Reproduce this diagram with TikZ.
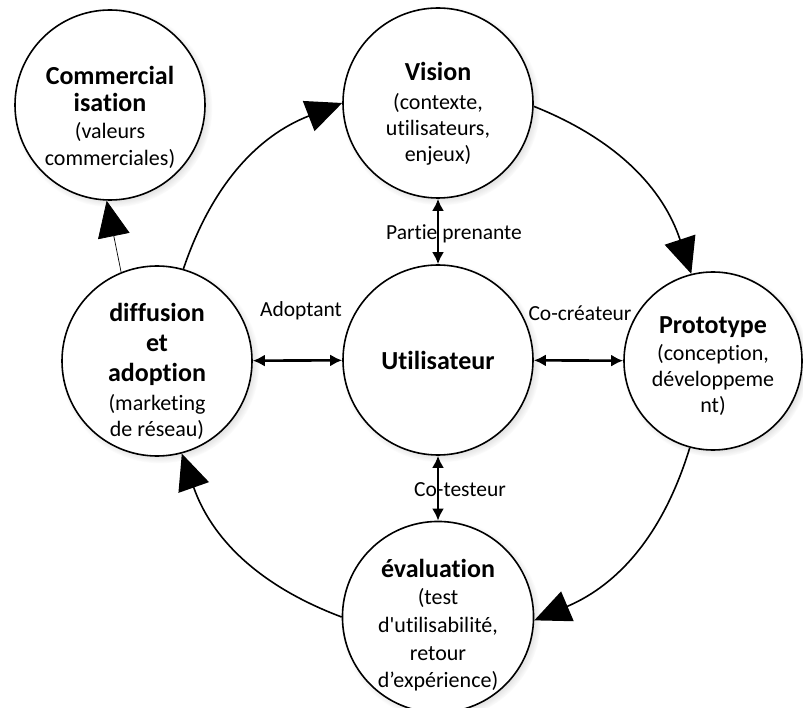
\documentclass[tikz,border=0pt]{standalone}
\usepackage{fontspec}
\setmainfont{Carlito}[Ligatures=NoCommon]
\usetikzlibrary{positioning, arrows.meta, shadows}

\newcommand{\ctitle}[1]{{\fontsize{26}{28}\selectfont\bfseries #1}}
\newcommand{\lift}[1]{\rule{0pt}{#1}}

\begin{document}
\begin{tikzpicture}[x=1pt, y=-1pt,
  circ/.style={circle, draw, line width=1.6pt, fill=white, minimum size=190pt, inner sep=0pt,
    align=center, font=\fontsize{22}{26}\selectfont,
    circular drop shadow={shadow scale=1.05, shadow xshift=2.5pt, shadow yshift=-2.5pt, opacity=0.4}},
  cycle/.style={line width=1.6pt, -{Triangle[length=36pt, width=32pt]}},
  dbl/.style={line width=2.6pt, {Latex[length=12pt, width=12pt]}-{Latex[length=12pt, width=12pt]}},
  lbl/.style={font=\fontsize{21.5}{25}\selectfont, anchor=base}]

\useasboundingbox (0,0) rectangle (803,708);

% circles
\node[circ] (com) at (110,105) {\lift{44pt}\ctitle{Commercial}\\[1pt] \ctitle{isation}\\[1pt] (valeurs\\[1pt] commerciales)};
\node[circ] (vis) at (438,103) {\lift{40pt}\ctitle{Vision}\\[3pt] (contexte,\\ utilisateurs,\\ enjeux)};
\node[circ] (util) at (438,360) {\ctitle{Utilisateur}};
\node[circ] (dif) at (157,361) {\lift{39pt}\ctitle{diffusion}\\[4pt] \ctitle{et}\\[4pt] \ctitle{adoption}\\[3pt] (marketing\\ de réseau)};
\node[circ, minimum size=178pt] (pro) at (713,361) {\lift{28pt}\ctitle{Prototype}\\[1pt] (conception,\\ développeme\\ nt)};
\node[circ] (eva) at (438,617) {\lift{35pt}\ctitle{évaluation}\\[1pt] (test\\[2pt] d\textquotesingle utilisabilité,\\[2pt] retour\\[1pt] d’expérience)};

% roles
\node[lbl] (lpp) at (454,240) {Partie prenante};
\node[lbl] (lct) at (460,496) {Co-testeur};
\node[lbl] (lad) at (301,317) {Adoptant};
\node[lbl] (lcc) at (580,321) {Co-créateur};

\draw[dbl] (vis) -- (util);
\draw[dbl] (util) -- (eva);
\draw[dbl] (dif) -- (util);
\draw[dbl] (util) -- (pro);

% cycle
\draw[cycle] (dif.74) to[bend left=25] (vis.west);
\draw[cycle] (vis.-2) to[bend left=25] (pro.104);
\draw[cycle] (pro.255) to[bend left=25] (eva.-2);
\draw[cycle] (eva.west) to[bend left=25] (dif.285);
\draw[line width=0.7pt, -{Triangle[length=36pt, width=32pt]}] (dif.112) -- (com.268);

\end{tikzpicture}
\end{document}
